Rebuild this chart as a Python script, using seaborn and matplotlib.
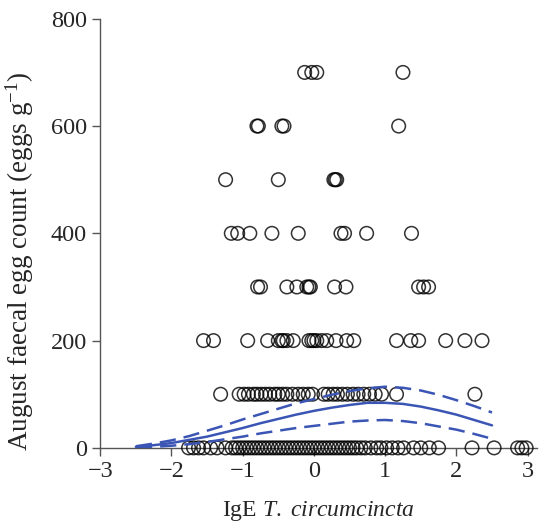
import matplotlib
matplotlib.use("Agg")
import matplotlib.pyplot as plt
import numpy as np
import pandas as pd
import seaborn as sns

# observed egg counts, one list of IgE values per egg-count level
ige_700 = [-0.13, -0.03, 0.04, 1.25]
ige_600 = [-0.80, -0.78, -0.45, -0.42, 1.19]
ige_500 = [-1.24, -0.50, 0.28, 0.30, 0.32]
ige_400 = [-1.16, -1.07, -0.90, -0.59, -0.22, 0.38, 0.43, 0.74, 1.37]
ige_300 = [-0.79, -0.75, -0.38, -0.24, -0.10, -0.07, -0.05, 0.29, 0.45,
           1.47, 1.54, 1.61]
ige_200 = [-1.55, -1.41, -0.93, -0.65, -0.50, -0.45, -0.43, -0.38, -0.29,
           -0.07, -0.03, 0.00, 0.04, 0.11, 0.18, 0.31, 0.46, 0.56, 1.16,
           1.36, 1.47, 1.85, 2.12, 2.36]
ige_100 = [-1.31, -1.05, -0.98, -0.92, -0.85, -0.80, -0.74, -0.68, -0.62,
           -0.55, -0.50, -0.44, -0.38, -0.30, -0.22, -0.15, -0.08, -0.02,
           0.14, 0.20, 0.27, 0.33, 0.40, 0.47, 0.55, 0.62, 0.70, 0.78,
           0.86, 0.95, 1.16, 2.26]
ige_0 = [-1.76, -1.69, -1.62, -1.55, -1.45, -1.36, -1.24, -1.15, -1.10,
         -1.05, -1.00, -0.95, -0.90, -0.85, -0.80, -0.75, -0.70, -0.65,
         -0.60, -0.55, -0.50, -0.45, -0.40, -0.35, -0.30, -0.25, -0.20,
         -0.15, -0.10, -0.05, 0.00, 0.05, 0.10, 0.15, 0.20, 0.25, 0.30,
         0.35, 0.40, 0.45, 0.50, 0.55, 0.60, 0.66, 0.72, 0.80, 0.88,
         0.94, 1.02, 1.10, 1.18, 1.26, 1.40, 1.50, 1.62, 1.75, 2.22,
         2.53, 2.86, 2.92, 2.98]

# fitted curve and 95% interval
fit_x = [-2.5, -2.25, -2.0, -1.75, -1.5, -1.25, -1.0, -0.75, -0.5, -0.25,
         0.0, 0.25, 0.5, 0.75, 1.0, 1.25, 1.5, 1.75, 2.0, 2.25, 2.5]
fit_mid = [2, 5, 9, 15, 21, 29, 37, 46, 54, 62, 69, 75, 80, 84, 84, 82,
           77, 70, 62, 52, 42]
fit_upper = [3, 8, 14, 22, 32, 42, 53, 63, 73, 83, 91, 99, 106, 111, 114,
             112, 107, 99, 89, 78, 66]
fit_lower = [1, 2, 4, 7, 11, 16, 21, 27, 32, 37, 41, 45, 49, 51, 52, 50,
             46, 40, 34, 26, 17]

levels = {700: ige_700, 600: ige_600, 500: ige_500, 400: ige_400,
          300: ige_300, 200: ige_200, 100: ige_100, 0: ige_0}
obs = pd.DataFrame(
    [(x, fec) for fec, xs in levels.items() for x in xs],
    columns=["ige", "fec"],
)
fit = pd.DataFrame({"ige": fit_x, "mid": fit_mid,
                    "upper": fit_upper, "lower": fit_lower})

sns.set_style("ticks")
plt.rcParams["font.family"] = ["Liberation Serif", "DejaVu Serif"]
plt.rcParams["mathtext.fontset"] = "custom"
plt.rcParams["mathtext.rm"] = "Liberation Serif"
plt.rcParams["mathtext.it"] = "Liberation Serif:italic"

fig = plt.figure(figsize=(5.39, 5.22), dpi=100)
ax = fig.add_axes([0.186, 0.142, 0.81, 0.822])

sns.scatterplot(data=obs, x="ige", y="fec", ax=ax, marker="o", s=95,
                facecolor="none", edgecolor="black", linewidth=1.1,
                alpha=0.8, clip_on=False, zorder=3)

blue = "#3b55b5"
sns.lineplot(data=fit, x="ige", y="mid", ax=ax, color=blue, lw=1.8,
             zorder=4)
for col in ["upper", "lower"]:
    sns.lineplot(data=fit, x="ige", y=col, ax=ax, color=blue, lw=1.8,
                 dashes=False, zorder=4).lines[-1].set_dashes((6.5, 3.2))

ax.set_xlim(-3, 3.13)
ax.set_ylim(0, 800)
ax.set_xticks([-3, -2, -1, 0, 1, 2, 3])
ax.set_yticks([0, 200, 400, 600, 800])
ax.set_xlabel(r"IgE $\mathit{T.\ circumcincta}$", fontsize=17, labelpad=12)
ax.set_ylabel(r"August faecal egg count (eggs g$^{-1}$)", fontsize=19.5)
ax.yaxis.set_label_coords(-0.148, 0.435)
ax.tick_params(labelsize=17.5, direction="out", length=6, width=1,
               color="#555555")
sns.despine(ax=ax)
for side in ["left", "bottom"]:
    ax.spines[side].set_color("#555555")
    ax.spines[side].set_linewidth(1)

fig.savefig("out.png", dpi=100)
